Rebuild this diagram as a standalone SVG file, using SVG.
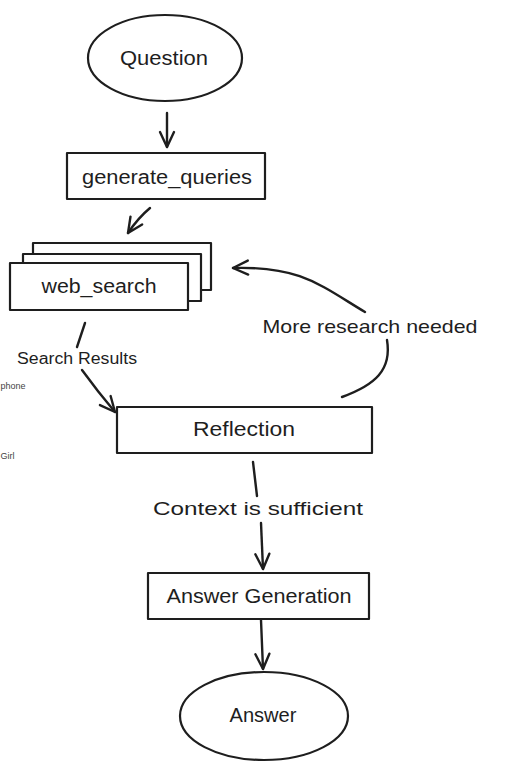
<svg xmlns="http://www.w3.org/2000/svg" width="522" height="776" viewBox="0 0 522 776">
<style>
.shape{fill:#fff;stroke:#1e1e1e;stroke-width:2.2;stroke-linejoin:round}
.lbl{font-family:"Liberation Sans","Open Sans",sans-serif;font-size:20px;fill:#1e1e1e;text-anchor:middle;dominant-baseline:central}
.elbl{font-family:"Liberation Sans","Open Sans",sans-serif;font-size:19px;fill:#1e1e1e;text-anchor:middle;dominant-baseline:central}
.conn{fill:none;stroke:#1e1e1e;stroke-width:2.4;stroke-linecap:round}
.side{font-family:"Liberation Sans",sans-serif;font-size:9px;fill:#444}
</style>
<defs>
<marker id="arr" markerUnits="userSpaceOnUse" markerWidth="24" markerHeight="24" viewBox="-20 -12 24 24" refX="0" refY="0" orient="auto">
<path d="M-15,-7 L0,0 L-15,7" fill="none" stroke="#1e1e1e" stroke-width="2.4" stroke-linecap="round" stroke-linejoin="round"/>
</marker>
</defs>
<rect x="0" y="0" width="522" height="776" fill="#fff"/>
<text class="side" x="0.5" y="389">phone</text>
<text class="side" x="0.5" y="459">Girl</text>

<g id="connectors">
<path class="conn" d="M167,113 L167,147" marker-end="url(#arr)"/>
<path class="conn" d="M150,208 Q138,218 128,233" marker-end="url(#arr)"/>
<path class="conn" d="M85,323 L77,347"/>
<path class="conn" d="M82,370 Q98,392 115,412" marker-end="url(#arr)"/>
<path class="conn" d="M342,397 C375,385 392,370 387,340"/>
<path class="conn" d="M365,312 C320,285 300,266 233,268" marker-end="url(#arr)"/>
<path class="conn" d="M253,462 L257,496"/>
<path class="conn" d="M261,523 L263,569" marker-end="url(#arr)"/>
<path class="conn" d="M261,620 L263,669" marker-end="url(#arr)"/>
<text class="elbl" x="77" y="358" style="font-size:16px" textLength="120" lengthAdjust="spacingAndGlyphs">Search Results</text>
<text class="elbl" x="370" y="326" textLength="215" lengthAdjust="spacingAndGlyphs">More research needed</text>
<text class="elbl" x="258" y="508" textLength="210" lengthAdjust="spacingAndGlyphs">Context is sufficient</text>
</g>

<g id="question">
<ellipse class="shape" cx="165" cy="58" rx="77" ry="43"/>
<text class="lbl" x="164" y="58" textLength="88" lengthAdjust="spacingAndGlyphs">Question</text>
</g>
<g id="generate_queries">
<rect class="shape" x="67" y="153" width="198" height="46"/>
<text class="lbl" x="167" y="177" textLength="170" lengthAdjust="spacingAndGlyphs">generate_queries</text>
</g>
<g id="web_search">
<rect class="shape" x="33" y="243" width="178" height="47"/>
<rect class="shape" x="23" y="254" width="178" height="47"/>
<rect class="shape" x="10" y="263" width="178" height="47"/>
<text class="lbl" x="99" y="286" textLength="115" lengthAdjust="spacingAndGlyphs">web_search</text>
</g>
<g id="reflection">
<rect class="shape" x="117" y="407" width="255" height="46"/>
<text class="lbl" x="244" y="429" textLength="102" lengthAdjust="spacingAndGlyphs">Reflection</text>
</g>
<g id="answer_generation">
<rect class="shape" x="148" y="573" width="221" height="46"/>
<text class="lbl" x="259" y="596" textLength="185" lengthAdjust="spacingAndGlyphs">Answer Generation</text>
</g>
<g id="answer">
<ellipse class="shape" cx="264" cy="716" rx="84" ry="44"/>
<text class="lbl" x="263" y="715" textLength="67" lengthAdjust="spacingAndGlyphs">Answer</text>
</g>
</svg>
